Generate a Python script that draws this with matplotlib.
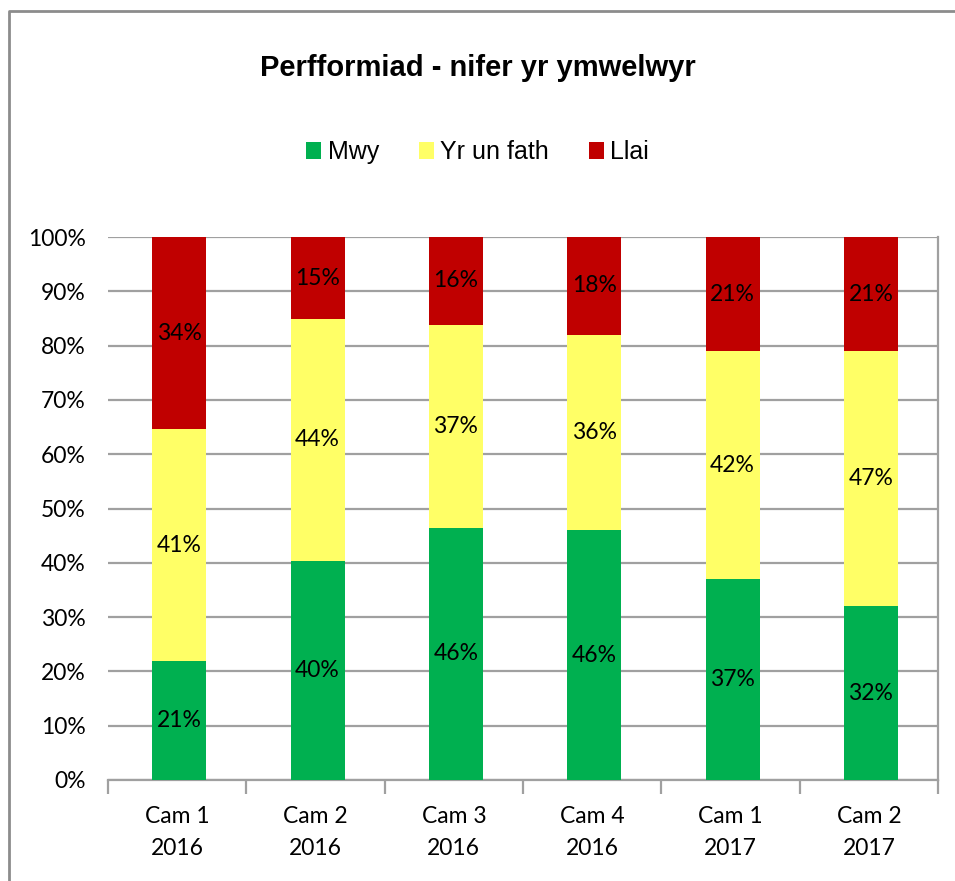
import matplotlib.pyplot as plt
from matplotlib.lines import Line2D
import numpy as np

# Chart data
categories = ["Cam 1\n2016", "Cam 2\n2016", "Cam 3\n2016", "Cam 4\n2016", "Cam 1\n2017", "Cam 2\n2017"]
series_names = ["Mwy", "Yr un fath", "Llai"]
mwy = [21, 40, 46, 46, 37, 32]
yr_un_fath = [41, 44, 37, 36, 42, 47]
llai = [34, 15, 16, 18, 21, 21]

colors = ["#00B050", "#FFFF66", "#C00000"]
grid_col = "#A0A0A0"
label_font = ["Lato", "DejaVu Sans"]

values = np.array([mwy, yr_un_fath, llai], dtype=float)
shares = values / values.sum(axis=0) * 100   # 100% stacked

fig = plt.figure(figsize=(9.55, 8.81), dpi=100)
ax = fig.add_axes([108 / 955, 1 - 780 / 881, (938 - 108) / 955, (780 - 237) / 881])

x = np.arange(len(categories))
bottom = np.zeros(len(categories))
for i, name in enumerate(series_names):
    ax.bar(x + 0.015, shares[i], 0.39, bottom=bottom, color=colors[i], label=name, zorder=3)
    for j in range(len(categories)):
        ax.text(x[j] + 0.015, bottom[j] + shares[i][j] / 2, "%d%%" % values[i][j],
                ha="center", va="center", fontsize=16.5, family=label_font, zorder=4)
    bottom += shares[i]

ax.set_xlim(-0.5, len(categories) - 0.5)
ax.set_ylim(0, 100)
ax.set_yticks(np.arange(0, 101, 10))
ax.set_yticklabels(["%d%%" % v for v in range(0, 101, 10)], fontsize=16.5, family=label_font)
ax.yaxis.grid(True, color=grid_col, linewidth=1.6, zorder=0)
ax.tick_params(axis="y", length=0, pad=16)

ax.set_xticks(x)
ax.set_xticklabels(categories, fontsize=16.5, family=label_font, linespacing=1.65)
ax.set_xticks(np.arange(-0.5, len(categories)), minor=True)
ax.tick_params(axis="x", which="major", length=0, pad=19)
ax.tick_params(axis="x", which="minor", length=10, color=grid_col, width=1.6)

for side in ["top", "left"]:
    ax.spines[side].set_visible(False)
for side in ["bottom", "right"]:
    ax.spines[side].set_color(grid_col)
    ax.spines[side].set_linewidth(1.6)

fig.text(0.5, 1 - 68 / 881, "Perfformiad - nifer yr ymwelwyr", ha="center", va="center",
         fontsize=21, fontweight="bold", family="Liberation Sans")

leg = fig.legend(loc="center", bbox_to_anchor=(0.5, 1 - 152 / 881), ncol=3, frameon=False,
                 prop={"family": "Liberation Sans", "size": 18},
                 handlelength=0.6, handleheight=0.7, handletextpad=0.25, columnspacing=1.6)

# outer chart border (left and top visible)
fig.add_artist(Line2D([9 / 955, 9 / 955, 1], [0, 1 - 11 / 881, 1 - 11 / 881],
                      transform=fig.transFigure, color="#8C8C8C", linewidth=2))

fig.savefig("out.png", dpi=100, facecolor="white")
